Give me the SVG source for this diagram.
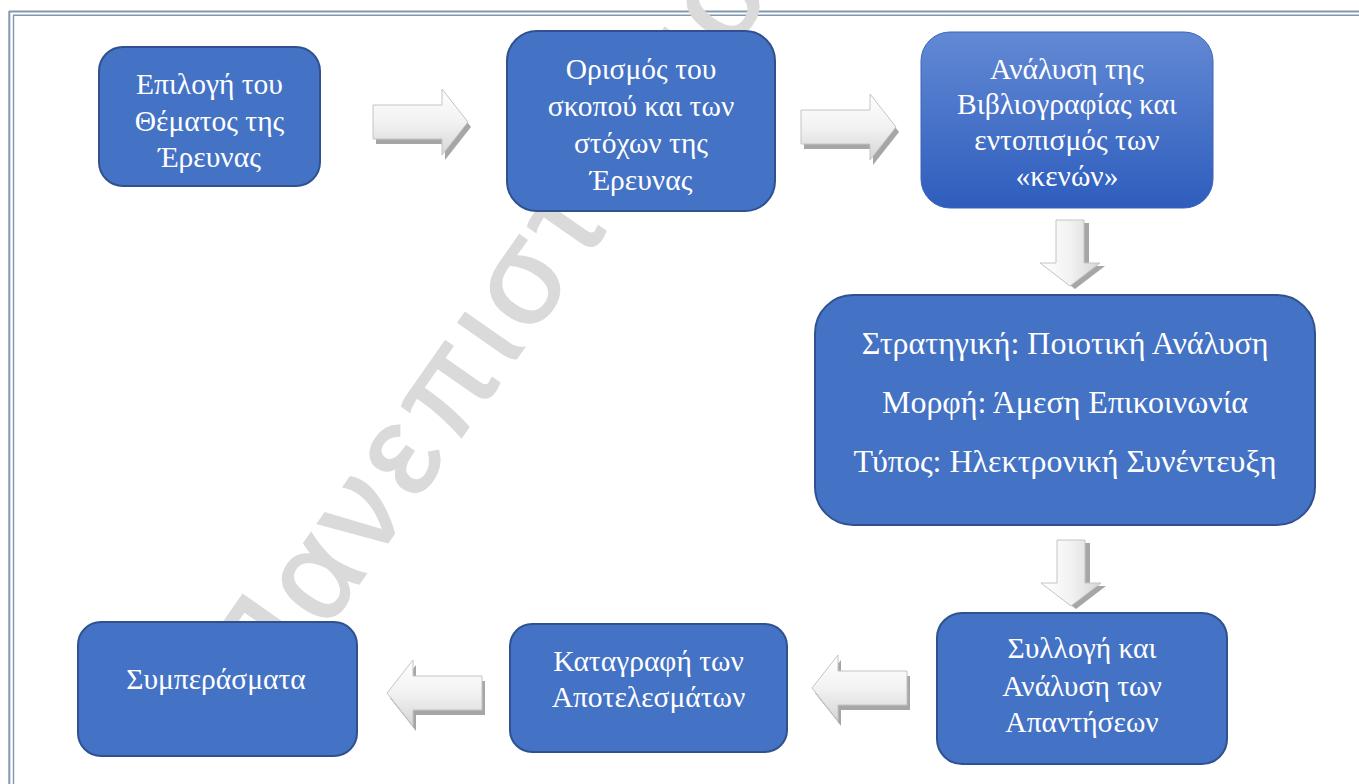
<svg xmlns="http://www.w3.org/2000/svg" width="1359" height="784" viewBox="0 0 1359 784">
  <style>
    .box { fill: #4472c4; stroke: #2f528f; stroke-width: 2; }
    .lbl { font-family: "Liberation Serif", "Times New Roman", "DejaVu Serif", serif; font-size: 29.5px; fill: #ffffff; text-anchor: middle; }
    .big { font-size: 32px; }
    .border { stroke: #8497b0; fill: none; }
    .arrowFace { stroke: #c4c4c4; stroke-width: 1; }
    .arrowShadow { fill: #a6a6a6; }
    .wm { font-family: "Liberation Sans", Arial, sans-serif; font-size: 128px; fill: #dadada; stroke: #dadada; stroke-width: 2.5; letter-spacing: 9px; }
  </style>
  <defs>
    <linearGradient id="gH" x1="0" y1="0" x2="0" y2="1">
      <stop offset="0" stop-color="#ffffff"/>
      <stop offset="0.5" stop-color="#f2f2f2"/>
      <stop offset="1" stop-color="#d6d6d6"/>
    </linearGradient>
    <linearGradient id="gV" x1="0" y1="0" x2="1" y2="0">
      <stop offset="0" stop-color="#ffffff"/>
      <stop offset="0.5" stop-color="#f2f2f2"/>
      <stop offset="1" stop-color="#d6d6d6"/>
    </linearGradient>
    <linearGradient id="gNode3" x1="0" y1="0" x2="0" y2="1">
      <stop offset="0" stop-color="#6289d4"/>
      <stop offset="1" stop-color="#2e5dbd"/>
    </linearGradient>
    <path id="arR" d="M0,16 H69 V0 L95,33 L69,66 V50 H0 Z"/>
    <path id="arL" d="M95,16 H26 V0 L0,33 L26,66 V50 H95 Z"/>
    <path id="arD" d="M16,0 H44 V43 H60 L30,66 L0,43 H16 Z"/>
  </defs>

  <rect width="1359" height="784" fill="#ffffff"/>

  <!-- page border -->
  <g id="page-border">
    <line class="border" x1="9" y1="11.5" x2="1359" y2="11.5" stroke-width="2"/>
    <line class="border" x1="9.3" y1="11" x2="9.3" y2="784" stroke-width="2"/>
    <line class="border" x1="13" y1="15.3" x2="1359" y2="15.3" stroke-width="1.4"/>
    <line class="border" x1="13.5" y1="15" x2="13.5" y2="784" stroke-width="1.4"/>
  </g>

  <!-- watermark -->
  <text class="wm" x="268" y="713" transform="rotate(-55 268 713)">Πανεπιστήμιο</text>

  <!-- connectors -->
  <g id="connectors">
    <g id="arrow-1-2" transform="translate(373,89)">
      <use href="#arR" class="arrowShadow" transform="translate(3,5)"/>
      <use href="#arR" class="arrowFace" fill="url(#gH)"/>
    </g>
    <g id="arrow-2-3" transform="translate(801,94)">
      <use href="#arR" class="arrowShadow" transform="translate(3,5)"/>
      <use href="#arR" class="arrowFace" fill="url(#gH)"/>
    </g>
    <g id="arrow-3-4" transform="translate(1040,220)">
      <use href="#arD" class="arrowShadow" transform="translate(5,3)"/>
      <use href="#arD" class="arrowFace" fill="url(#gV)"/>
    </g>
    <g id="arrow-4-5" transform="translate(1041,540)">
      <use href="#arD" class="arrowShadow" transform="translate(5,3)"/>
      <use href="#arD" class="arrowFace" fill="url(#gV)"/>
    </g>
    <g id="arrow-5-6" transform="translate(812,655)">
      <use href="#arL" class="arrowShadow" transform="translate(3,5)"/>
      <use href="#arL" class="arrowFace" fill="url(#gH)"/>
    </g>
    <g id="arrow-6-7" transform="translate(387,660)">
      <use href="#arL" class="arrowShadow" transform="translate(3,5)"/>
      <use href="#arL" class="arrowFace" fill="url(#gH)"/>
    </g>
  </g>

  <!-- nodes -->
  <g id="node-1">
    <rect class="box" x="99" y="47" width="221" height="139" rx="24"/>
    <text class="lbl" x="209.5" y="94">Επιλογή του</text>
    <text class="lbl" x="209.5" y="131">Θέματος της</text>
    <text class="lbl" x="209.5" y="167">Έρευνας</text>
  </g>

  <g id="node-2">
    <rect class="box" x="507" y="31" width="268" height="180" rx="30"/>
    <text class="lbl" x="641" y="79">Ορισμός του</text>
    <text class="lbl" x="641" y="116">σκοπού και των</text>
    <text class="lbl" x="641" y="153">στόχων της</text>
    <text class="lbl" x="641" y="190">Έρευνας</text>
  </g>

  <g id="node-3">
    <rect x="921" y="32" width="292" height="176" rx="29" fill="url(#gNode3)" stroke="#3b64b8" stroke-width="1"/>
    <text class="lbl" x="1067" y="79">Ανάλυση της</text>
    <text class="lbl" x="1067" y="114">Βιβλιογραφίας και</text>
    <text class="lbl" x="1067" y="150">εντοπισμός των</text>
    <text class="lbl" x="1067" y="186">«κενών»</text>
  </g>

  <g id="node-4">
    <rect class="box" x="815" y="295" width="500" height="230" rx="38"/>
    <text class="lbl big" x="1065" y="354">Στρατηγική: Ποιοτική Ανάλυση</text>
    <text class="lbl big" x="1065" y="413">Μορφή: Άμεση Επικοινωνία</text>
    <text class="lbl big" x="1065" y="472">Τύπος: Ηλεκτρονική Συνέντευξη</text>
  </g>

  <g id="node-5">
    <rect class="box" x="937" y="613" width="290" height="151" rx="25"/>
    <text class="lbl" x="1082" y="658">Συλλογή και</text>
    <text class="lbl" x="1082" y="696">Ανάλυση των</text>
    <text class="lbl" x="1082" y="732">Απαντήσεων</text>
  </g>

  <g id="node-6">
    <rect class="box" x="510" y="624" width="277" height="128" rx="22"/>
    <text class="lbl" x="648.5" y="671">Καταγραφή των</text>
    <text class="lbl" x="648.5" y="707">Αποτελεσμάτων</text>
  </g>

  <g id="node-7">
    <rect class="box" x="78" y="622" width="279" height="134" rx="23"/>
    <text class="lbl" x="216" y="689">Συμπεράσματα</text>
  </g>
</svg>
